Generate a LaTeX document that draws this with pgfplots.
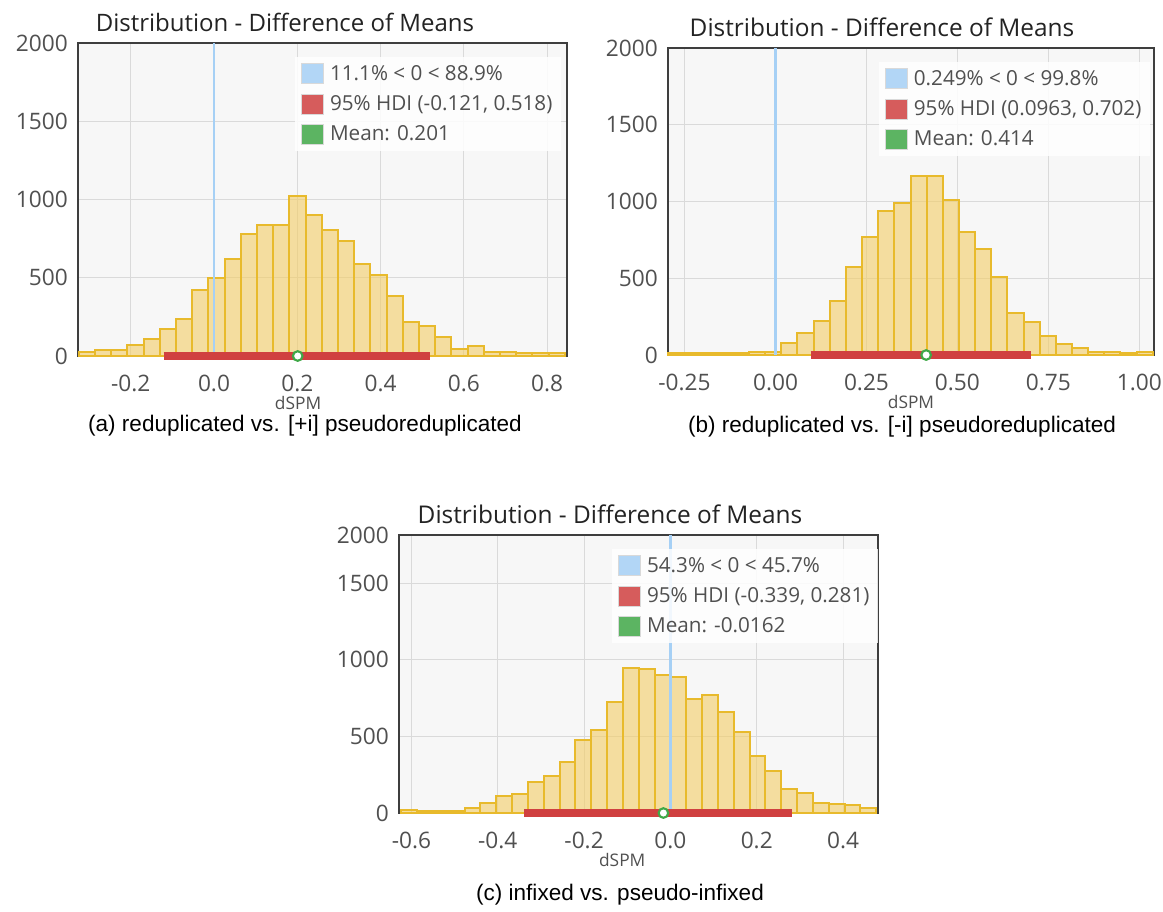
\documentclass[border=0pt]{standalone}
\usepackage{fontspec}
\setmainfont{Open Sans}
\newfontfamily\capfont{Liberation Sans}
\usepackage{pgfplots}
\pgfplotsset{compat=1.18}
\definecolor{barfill}{RGB}{243,205,101}
\definecolor{baredge}{RGB}{232,186,44}
\definecolor{lblue}{RGB}{166,208,245}
\definecolor{hdired}{RGB}{208,64,64}
\definecolor{mgreen}{RGB}{64,168,72}
\definecolor{framec}{RGB}{62,62,62}
\definecolor{gridc}{RGB}{218,218,218}
\definecolor{tickc}{RGB}{80,80,80}
\definecolor{titlec}{RGB}{35,35,35}
\definecolor{plotbg}{RGB}{247,247,247}
\pgfplotsset{dist/.style={
  scale only axis, clip=false,
  axis background/.style={fill=plotbg},
  axis line style={framec, line width=2.2pt},
  ymin=0, ymax=2000, ytick={0,500,1000,1500,2000}, yticklabels={0,500,1000,1500,2000},
  major tick length=0pt,
  grid=major, major grid style={gridc, line width=0.8pt},
  tick label style={font=\fontsize{17}{20}\selectfont, text=tickc},
  yticklabel style={anchor=east, inner sep=0pt, xshift=-7.5pt},
  xticklabel style={anchor=center, inner sep=0pt, yshift=-20.25pt},
  legend cell align=left,
  legend style={draw=none, fill=white, fill opacity=0.85, text opacity=1, anchor=north west,
     font=\fontsize{15.5}{18}\selectfont, text=tickc, row sep=6pt, inner xsep=4.5pt, inner ysep=4pt},
  legend image code/.code={\draw[##1, draw=black!15, line width=0.6pt] (0pt,-7.5pt) rectangle (16.5pt,7.5pt); \path (19pt,0pt);},
  xlabel={dSPM},
  xlabel style={anchor=center, inner sep=0pt, yshift=-35pt, font=\fontsize{13}{15}\selectfont, text=tickc},
  hist/.style={ybar interval, fill=barfill, fill opacity=0.6, draw=baredge, draw opacity=1, line width=1.5pt, forget plot},
  zline/.style={lblue, line width=2.2pt, forget plot},
  hdi/.style={hdired, line width=5.5pt, forget plot},
  meanmark/.style={only marks, mark=*, mark size=3.6pt, mark options={fill=white, draw=mgreen, line width=1.6pt}, forget plot},
}}
\begin{document}
\begin{tikzpicture}
\useasboundingbox (0,0) rectangle (872.25pt,-683.25pt);
\fill[white] (0,0) rectangle (872.25pt,-683.25pt);

% ---------- (a)
\begin{axis}[dist, at={(58.5pt,-32.25pt)}, anchor=north west, width=366.75pt, height=234.75pt,
  xmin=-0.3265, xmax=0.8475,
  xtick={-0.2,0,0.2,0.4,0.6,0.8}, xticklabels={-0.2,0.0,0.2,0.4,0.6,0.8},
  xlabel style={at={(axis description cs:0.45,0)}},
  legend style={at={(0.444,0.955)}}]
\addlegendimage{fill=lblue}\addlegendentry{11.1\% < 0 < 88.9\%}
\addlegendimage{fill=hdired}\addlegendentry{95\% HDI (-0.121, 0.518)}
\addlegendimage{fill=mgreen}\addlegendentry{Mean: 0.201}
\addplot[hist] coordinates {(-0.3246,25) (-0.2857,36) (-0.2468,36) (-0.2079,68) (-0.1690,106)
 (-0.1301,174) (-0.0912,238) (-0.0523,419) (-0.0134,500) (0.0255,617) (0.0644,777) (0.1033,838)
 (0.1422,838) (0.1811,1025) (0.2200,902) (0.2589,802) (0.2978,732) (0.3367,589) (0.3756,515)
 (0.4145,381) (0.4534,217) (0.4923,191) (0.5312,121) (0.5701,47) (0.6090,64) (0.6479,26)
 (0.6868,26) (0.7257,19) (0.7646,19) (0.8035,19) (0.8424,19)};
\addplot[zline] coordinates {(0,0) (0,2000)};
\addplot[hdi] coordinates {(-0.121,0) (0.518,0)};
\addplot[meanmark] coordinates {(0.201,0)};
\end{axis}

% ---------- (b)
\begin{axis}[dist, at={(501pt,-36pt)}, anchor=north west, width=364.5pt, height=230.25pt,
  xmin=-0.2954, xmax=1.0402,
  xtick={-0.25,0,0.25,0.5,0.75,1}, xticklabels={-0.25,0.00,0.25,0.50,0.75,1.00},
  xlabel style={at={(axis description cs:0.5,0)}},
  legend style={at={(0.434,0.955)}}]
\addlegendimage{fill=lblue}\addlegendentry{0.249\% < 0 < 99.8\%}
\addlegendimage{fill=hdired}\addlegendentry{95\% HDI (0.0963, 0.702)}
\addlegendimage{fill=mgreen}\addlegendentry{Mean: 0.414}
\addplot[hist] coordinates {(-0.2946,11) (-0.2502,11) (-0.2058,11) (-0.1615,11) (-0.1171,11)
 (-0.0727,22) (-0.0283,22) (0.0161,76) (0.0604,141) (0.1048,224) (0.1492,354) (0.1936,572)
 (0.2380,767) (0.2823,935) (0.3267,993) (0.3711,1163) (0.4155,1163) (0.4599,1007) (0.5042,804)
 (0.5486,689) (0.5930,511) (0.6374,272) (0.6818,213) (0.7261,126) (0.7705,70) (0.8149,43)
 (0.8593,17) (0.9037,17) (0.9480,11) (0.9924,17) (1.0368,17)};
\addplot[zline] coordinates {(0,0) (0,2000)};
\addplot[hdi] coordinates {(0.0963,0) (0.702,0)};
\addplot[meanmark] coordinates {(0.414,0)};
\end{axis}

% ---------- (c)  (top of this chart is cropped in the reference)
\begin{axis}[dist, at={(299.25pt,-401.25pt)}, anchor=north west, width=359.25pt, height=208.5pt,
  xmin=-0.6288, xmax=0.481, ymax=1815,
  ytick={0,500,1000,1500,1815}, yticklabels={0,500,1000,1500,2000},
  xtick={-0.6,-0.4,-0.2,0,0.2,0.4}, xticklabels={-0.6,-0.4,-0.2,0.0,0.2,0.4},
  xlabel style={at={(axis description cs:0.466,0)}},
  legend style={at={(0.445,0.95)}}]
\addlegendimage{fill=lblue}\addlegendentry{54.3\% < 0 < 45.7\%}
\addlegendimage{fill=hdired}\addlegendentry{95\% HDI (-0.339, 0.281)}
\addlegendimage{fill=mgreen}\addlegendentry{Mean: -0.0162}
\addplot[hist] coordinates {(-0.6235,17) (-0.5868,11) (-0.5501,11) (-0.5134,11) (-0.4768,33)
 (-0.4401,65) (-0.4034,113) (-0.3667,124) (-0.3300,200) (-0.2934,239) (-0.2567,333) (-0.2200,478)
 (-0.1833,539) (-0.1466,724) (-0.1100,946) (-0.0733,939) (-0.0366,902) (0.0001,891) (0.0368,743)
 (0.0735,772) (0.1101,659) (0.1468,526) (0.1835,370) (0.2202,276) (0.2569,157) (0.2935,130)
 (0.3302,65) (0.3669,61) (0.4036,50) (0.4403,33) (0.4769,33)};
\addplot[zline] coordinates {(0,0) (0,1815)};
\addplot[hdi] coordinates {(-0.339,0) (0.281,0)};
\addplot[meanmark] coordinates {(-0.0162,0)};
\end{axis}

% titles and captions
\node[font=\fontsize{18}{21}\selectfont, text=titlec] at (213.75pt,-16.5pt) {Distribution - Difference of Means};
\node[font=\fontsize{18.3}{21}\selectfont, text=titlec] at (661.5pt,-20.25pt) {Distribution - Difference of Means};
\node[font=\fontsize{18.3}{21}\selectfont, text=titlec] at (457.5pt,-385.5pt) {Distribution - Difference of Means};
\node[font=\capfont\fontsize{16.9}{19}\selectfont, inner sep=0pt] at (228.75pt,-319pt) {(a) reduplicated vs. [+i] pseudoreduplicated};
\node[font=\capfont\fontsize{16.9}{19}\selectfont, inner sep=0pt] at (676.5pt,-320pt) {(b) reduplicated vs. [-i] pseudoreduplicated};
\node[font=\capfont\fontsize{16.9}{19}\selectfont, inner sep=0pt] at (465pt,-671.25pt) {(c) infixed vs. pseudo-infixed};
\end{tikzpicture}
\end{document}
